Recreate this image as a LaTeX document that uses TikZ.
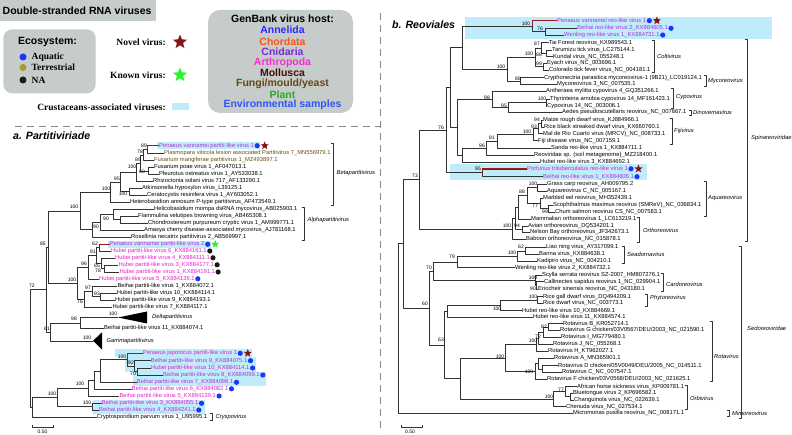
\documentclass[tikz,border=0pt]{standalone}
\usepackage{fontspec}
\setmainfont{Liberation Sans}
\newfontfamily\serifb{Liberation Serif}
\usetikzlibrary{shapes.geometric,calc}
\pgfdeclarelayer{bg}
\pgfsetlayers{bg,main}
\definecolor{brc}{RGB}{50,50,50}
\definecolor{redc}{RGB}{165,25,25}
\definecolor{artc}{RGB}{228,30,205}
\definecolor{crc}{RGB}{180,50,215}
\definecolor{fung}{RGB}{105,75,20}
\definecolor{hlb}{RGB}{190,236,250}
\definecolor{dotb}{RGB}{25,55,250}
\definecolor{doto}{RGB}{170,155,45}
\definecolor{dotk}{RGB}{25,25,25}
\definecolor{strred}{RGB}{135,20,20}
\definecolor{strgrn}{RGB}{40,245,40}
\definecolor{boxg}{RGB}{198,204,202}
\definecolor{cAnn}{RGB}{45,45,250}
\definecolor{cCho}{RGB}{250,85,25}
\definecolor{cCni}{RGB}{120,40,215}
\definecolor{cArt}{RGB}{240,50,205}
\definecolor{cMol}{RGB}{70,12,12}
\definecolor{cFun}{RGB}{100,70,20}
\definecolor{cPla}{RGB}{40,170,40}
\definecolor{cEnv}{RGB}{45,85,250}
\definecolor{dashc}{RGB}{135,135,135}
\tikzset{
  br/.style={draw=brc, line width=0.5pt},
  redbr/.style={draw=redc, line width=0.9pt},
  tip/.style={anchor=west, inner sep=0.2pt, outer sep=0pt, font=\fontsize{5.8}{6}\selectfont},
  bsl/.style={inner sep=0pt, font=\fontsize{5}{5}\selectfont},
  grp/.style={anchor=west, inner sep=0pt, font=\fontsize{5.8}{6}\selectfont\itshape},
  dotn/.style={circle, inner sep=0pt, minimum size=5.2pt},
  starn/.style={star, star points=5, star point ratio=2.3, inner sep=0pt, minimum size=8.5pt},
  brkt/.style={draw=black!80, line width=0.5pt},
  hostt/.style={font=\fontsize{10.5}{12}\selectfont\bfseries, inner sep=0pt},
  serl/.style={font=\serifb\bfseries\fontsize{9.5}{11}\selectfont, inner sep=0pt},
  dashl/.style={draw=dashc, line width=0.8pt, dash pattern=on 7pt off 5pt}
}
\newcommand\tp[5][black]{\node[tip,text=#1] (#2) at (#3,#4) {#5};}
\newcommand\nd[4]{\coordinate (#1m) at ($(#3)!0.5!(#4)$);\coordinate (#1) at (#2,0 |- #1m);\draw[br] (#1) |- (#3);\draw[br] (#1) |- (#4);}
\newcommand\bs[3]{\node[bsl] at (#1,#2) {#3};}
\newcommand\dt[2][dotb]{\node[dotn, fill=#1] at ($(#2.east)+(3,0)$) {};}
\newcommand\st[2][strred]{\node[starn, fill=#1] at ($(#2.east)+(10.5,0)$) {};}
\newcommand\brk[6]{\draw[brkt] (#1,#2) ++(-2.5,0) -- (#1,#2) -- (#1,#3) -- ++(-2.5,0);\node[grp] at (#4,#5) {#6};}
\newcommand\hlbox[4]{\path (#1.east) ++(#2,0) coordinate (hltmp);\fill[hlb] (#3) rectangle (hltmp |- 0,#4);}
\begin{document}
\begin{tikzpicture}[x=1pt,y=-1pt,line join=round]
\useasboundingbox (0,0) rectangle (792,435);
% ---------------- legend ----------------
\fill[boxg] (0,0) rectangle (156,21);
\node[anchor=west, font=\fontsize{10.5}{12}\selectfont\bfseries, inner sep=0pt] (ttl) at (2.5,10.5) {Double-stranded RNA viruses};
\fill[boxg, rounded corners=9pt] (3.3,29.3) rectangle (95.7,93.3);
\node[hostt] (eco) at (47.5,42) {Ecosystem:};
\node[circle, fill=dotb, minimum size=7pt, inner sep=0pt] (e1) at (23,57) {};
\node[circle, fill=doto, minimum size=7pt, inner sep=0pt] (e2) at (23,67.5) {};
\node[circle, fill=dotk, minimum size=7pt, inner sep=0pt] (e3) at (23,80) {};
\node[serl, anchor=west] (e1t) at (31.5,57) {Aquatic};
\node[serl, anchor=west] (e2t) at (31.5,67.5) {Terrestrial};
\node[serl, anchor=west] (e3t) at (31.5,80) {NA};
\node[serl, anchor=east] (nv) at (166,42) {Novel virus:};
\node[star, star points=5, star point ratio=2.3, inner sep=0pt, minimum size=15pt, fill=strred] (nvs) at (180,42) {};
\node[serl, anchor=east] (kv) at (166,75) {Known virus:};
\node[star, star points=5, star point ratio=2.3, inner sep=0pt, minimum size=15pt, fill=strgrn] (kvs) at (180,75) {};
\node[serl, anchor=east] (cv) at (166,107) {Crustaceans-associated viruses:};
\fill[hlb] (172,103.3) rectangle (188.5,110.5);
\fill[boxg, rounded corners=12pt] (208,10) rectangle (353,113);
\node[hostt] (gb) at (282.5,18.3) {GenBank virus host:};
\node[hostt, text=cAnn] (h1) at (282.5,30.2) {Annelida};
\node[hostt, text=cCho] (h2) at (282.5,41.3) {Chordata};
\node[hostt, text=cCni] (h3) at (282.5,51.8) {Cnidaria};
\node[hostt, text=cArt] (h4) at (282.5,62.5) {Arthropoda};
\node[hostt, text=cMol] (h5) at (282.5,72.8) {Mollusca};
\node[hostt, text=cFun] (h6) at (282.5,83.5) {Fungi/mould/yeast};
\node[hostt, text=cPla] (h7) at (282.5,94.5) {Plant};
\node[hostt, text=cEnv] (h8) at (282.5,105) {Environmental samples};
% dashed separators
\draw[dashl] (15,126) -- (380,126);
\draw[dashl] (380,13) -- (380,433);
% titles
\node[anchor=west, inner sep=0pt, font=\fontsize{10.6}{12}\selectfont\bfseries\itshape] (ta) at (13,136) {a. Partitiviriade};
\node[anchor=west, inner sep=0pt, font=\fontsize{10.6}{12}\selectfont\bfseries\itshape] (tb) at (392,24.5) {b. Reoviales};
% ---------------- tree a: tips ----------------
\tp[crc]{a1}{159}{145.7}{Penaeus vannamei partiti-like virus 1}
\tp[fung]{a2}{164}{153}{Plasmopara viticola lesion associated Partitivirus 7\_MN556979.1}
\tp[fung]{a3}{154}{160.3}{Fusarium mangiferae partitivirus 1\_MZ493897.1}
\tp{a4}{154}{167.3}{Fusarium poae virus 1\_AF047013.1}
\tp{a5}{159}{174.3}{Pleurotus ostreatus virus 1\_AY533038.1}
\tp{a6}{153}{181}{Rhizoctonia solani virus 717\_AF133290.1}
\tp{a7}{142}{188.2}{Atkinsonella hypoxylon virus\_L39125.1}
\tp{a8}{147}{195.2}{Ceratocystis resinifera virus 1\_AY603052.1}
\tp{a9}{130}{202.2}{Heterobasidion annosum P-type partitivirus\_AF473549.1}
\tp{a10}{154}{209.2}{Helicobasidium mompa dsRNA mycovirus\_AB025903.1}
\tp{a11}{138}{216}{Flammulina velutipes browning virus\_AB465308.1}
\tp{a12}{148}{222.8}{Chondrostereum purpureum cryptic virus 1\_AM999771.1}
\tp{a13}{144}{230}{Amasya cherry disease-associated mycovirus\_AJ781168.1}
\tp{a14}{131}{237.2}{Rosellinia necatrix partitivirus 2\_AB569997.1}
\tp[crc]{a15}{109.5}{244.3}{Penaeus vannamei partiti-like virus 2}
\tp[artc]{a16}{111}{251}{Hubei partiti-like virus 6\_KX884161.1}
\tp[artc]{a17}{115}{257.8}{Hubei partiti-like virus 4\_KX884111.1}
\tp[artc]{a18}{118.3}{264.8}{Hubei partiti-like virus 3\_KX884177.1}
\tp[artc]{a19}{119.3}{272}{Hubei partiti-like virus 1\_KX884191.1}
\tp[artc]{a20}{99}{278.8}{Hubei partiti-like virus 5\_KX884139.1}
\tp{a21}{117.3}{285.8}{Beihai partiti-like virus 1\_KX884072.1}
\tp{a22}{116.7}{292.8}{Hubei partiti-like virus 10\_KX884114.1}
\tp{a23}{115}{299.8}{Hubei partiti-like virus 9\_KX884193.1}
\tp{a24}{112.3}{306.8}{Hubei partiti-like virus 7\_KX884117.1}
\tp{a25}{104}{328.3}{Beihai partiti-like virus 11\_KX884074.1}
\tp[artc]{a26}{142.7}{353.3}{Penaeus japonicus partiti-like virus 1}
\tp[crc]{a27}{150.7}{360.7}{Beihai partiti-like virus 9\_KX884075.1}
\tp[artc]{a28}{151}{368}{Hubei partiti-like virus 10\_KX884114.1}
\tp[crc]{a29}{163}{375}{Beihai partiti-like virus 8\_KX884099.1}
\tp[crc]{a30}{136.7}{382.3}{Beihai partiti-like virus 7\_KX884098.1}
\tp[artc]{a31}{131.7}{388.8}{Beihai partiti-like virus 6\_KX884082.1}
\tp[artc]{a32}{119.3}{396}{Beihai partiti-like virus 5\_KX884139.1}
\tp[artc]{a33}{101.7}{403.3}{Beihai partiti-like virus 3\_KX884055.1}
\tp[crc]{a34}{99}{410}{Beihai partiti-like virus 4\_KX884241.1}
\tp{a35}{96.7}{416.8}{Cryptosporidium parvum virus 1\_U95995.1}
% highlights a
\begin{pgfonlayer}{bg}
\hlbox{a1}{6}{157,142}{149.5}
\hlbox{a15}{6}{108,240.7}{247.9}
\hlbox{a26}{15}{115,349.5}{357}
\hlbox{a28}{6.5}{125,357}{371.5}
\hlbox{a29}{6.5}{133,371.5}{385.8}
\hlbox{a33}{6.5}{93,399.6}{413.5}
\fill[hlb] (465,17) rectangle (772,39);
\fill[hlb] (450,164) rectangle (647,180.5);
\end{pgfonlayer}
% ---------------- tree a: topology ----------------
\nd{A1}{147}{a1.west}{a2.west}
\nd{A2}{143}{A1}{a3.west}
\nd{A60}{148}{a4.west}{a5.west}
\nd{A3}{140}{A2}{A60}
\nd{A4}{136}{A3}{a6.west}
\nd{AAC}{129}{a7.west}{a8.west}
\nd{A95}{120}{A4}{AAC}
\nd{ABt}{110}{A95}{a9.west}
\nd{AFC}{120}{a11.west}{a12.west}
\nd{A90a}{113}{a10.west}{AFC}
\nd{A90b}{100}{A90a}{a13.west}
\nd{AAl}{92}{A90b}{a14.west}
\nd{ABA}{80}{ABt}{AAl}
\nd{A62}{99}{a15.west}{a16.west}
\nd{A78}{104}{a18.west}{a19.west}
\nd{A85h}{101.5}{a17.west}{A78}
\nd{A81}{96}{A62}{A85h}
\nd{A96}{88}{A81}{a20.west}
\nd{A93}{100.5}{a22.west}{a23.west}
\nd{A97}{92}{a21.west}{A93}
\nd{A76}{84}{A97}{a24.west}
\nd{A100h}{77}{A96}{A76}
\nd{A85}{48.5}{ABA}{A100h}
\coordinate (dl) at (118,317.5);
\fill[black] (dl) -- (147,311.5) -- (147,323.5) -- cycle;
\node[grp] (dln) at (152,317.2) {Deltapartitivirus};
\nd{A98}{80}{dl}{a25.west}
\coordinate (gm) at (93,340.8);
\fill[black] (gm) -- (102,332.3) -- (102,349.5) -- cycle;
\node[grp] (gmn) at (106.5,341) {Gammapartitivirus};
\nd{A61}{50.5}{A98}{gm}
\nd{A72}{46.5}{A85}{A61}
\nd{A70}{137}{a28.west}{a29.west}
\nd{A92}{134}{a27.west}{A70}
\nd{Aj1}{127}{a26.west}{A92}
\nd{AZ}{100}{Aj1}{a30.west}
\nd{AY}{94}{AZ}{a31.west}
\nd{A100b}{88}{AY}{a32.west}
\nd{A100c}{92}{a33.west}{a34.west}
\nd{A100l}{57}{A100b}{A100c}
\nd{AX}{32}{A100l}{a35.west}
\nd{AR}{30}{A72}{AX}
\draw[redbr] (A1) |- (a1.west);
\draw[redbr] (A62) |- (a15.west);
\draw[redbr] (Aj1) |- (a26.west);
% markers a
\dt{a1}\st{a1}
\dt{a15}\st[strgrn]{a15}
\dt[dotk]{a16}\dt[dotk]{a17}\dt[dotk]{a18}\dt[dotk]{a19}\dt{a20}
\dt{a26}\st{a26}
\dt{a27}\dt{a28}\dt{a29}\dt{a30}\dt{a31}\dt{a32}\dt{a33}\dt{a34}
% bootstrap a
\bs{144}{146}{89}\bs{140}{152}{78}\bs{138}{160}{89}\bs{132}{167}{100}\bs{142}{172}{60}
\bs{117}{179}{95}\bs{106}{189}{100}\bs{123}{194}{100}\bs{74}{207}{100}\bs{106}{219}{90}
\bs{96}{227}{90}\bs{43}{244}{85}\bs{95}{244}{62}\bs{93}{252}{81}\bs{84}{264}{96}
\bs{97}{265.5}{85}\bs{98}{271}{78}\bs{72}{280}{100}\bs{88}{288}{97}\bs{97}{294}{93}
\bs{80}{302}{76}\bs{32}{286}{72}\bs{113}{314}{100}\bs{74}{319}{98}\bs{47}{329}{61}
\bs{87}{338}{100}\bs{122}{357}{100}\bs{131}{363}{92}\bs{133}{374}{70}\bs{80}{384}{100}
\bs{52}{394}{100}\bs{87}{403}{100}
% brackets a
\brk{333}{143}{205}{336.5}{173}{Betapartitivirus}
\brk{304}{207}{240}{307.5}{220}{Alphapartitivirus}
\brk{212}{413.5}{420}{215.5}{417}{Cryspovirus}
% scale a
\draw[br] (32,425) -- (32,427) -- (53,427) -- (53,425);
\node[bsl] (sa) at (42.5,432) {0.50};
% ---------------- tree b: tips ----------------
\tp[crc]{b1}{557}{20.7}{Penaeus vannamei reo-like virus 1}
\tp[crc]{b2}{577}{28.3}{Beihai reo-like virus 2\_KX884605.1}
\tp[crc]{b3}{564}{35}{Wenling reo-like virus 1\_KX884731.1}
\tp{b4}{549}{42.7}{Tai Forest reovirus\_KX989543.1}
\tp{b5}{552}{50}{Tarumizu tick virus\_LC275144.1}
\tp{b6}{553}{56.7}{Kundal virus\_NC\_055248.1}
\tp{b7}{547}{63.3}{Eyach virus\_NC\_003696.1}
\tp{b8}{549}{70}{Colorado tick fever virus\_NC\_004181.1}
\tp{b9}{544}{77.7}{Cryphonectria parasitica mycoreovirus-1 (9B21)\_LC019124.1}
\tp{b10}{557}{84}{Mycoreovirus 3\_NC\_007535.1}
\tp{b11}{546}{91}{Antheraea mylitta cypovirus 4\_GQ351266.1}
\tp{b12}{550}{99}{Thyrinteina arnobia cypovirus 14\_MF161423.1}
\tp{b13}{547}{106}{Cypovirus 14\_NC\_003006.1}
\tp{b14}{562}{112.3}{Aedes pseudoscutellaris reovirus\_NC\_007667.1}
\tp{b15}{543}{120}{Maize rough dwarf virus\_KJ884966.1}
\tp{b16}{544}{127}{Rice black streaked dwarf virus\_KX660760.1}
\tp{b17}{543}{133.7}{Mal de Rio Cuarto virus (MRCV)\_NC\_008733.1}
\tp{b18}{538}{140.7}{Fiji disease virus\_NC\_007159.1}
\tp{b19}{551}{148.3}{Sanda reo-like virus 1\_KX884711.1}
\tp{b20}{534}{155.3}{Reoviridae sp. (soil metagenome)\_MZ218400.1}
\tp{b21}{540}{162.3}{Hubei reo-like virus 3\_KX884692.1}
\tp[artc]{b22}{527}{168.8}{Portunus trituberculatus reo-like virus 1}
\tp[crc]{b23}{543}{176.7}{Beihai reo-like virus 1\_KX884606.1}
\tp{b24}{547}{184.3}{Grass carp reovirus\_AH009795.2}
\tp{b25}{547}{191}{Aquareovirus C\_NC\_005167.1}
\tp{b26}{543}{198.3}{Marbled eel reovirus\_MH352439.1}
\tp{b27}{553}{205}{Scophthalmus maximus reovirus (SMReV)\_NC\_036834.1}
\tp{b28}{555}{212.3}{Chum salmon reovirus CS\_NC\_007583.1}
\tp{b29}{531}{219}{Mammalian orthoreovirus 1\_LC613219.1}
\tp{b30}{528}{225.8}{Avian orthoreovirus\_DQ534201.1}
\tp{b31}{530}{232.5}{Nelson Bay orthoreovirus\_JF342673.1}
\tp{b32}{526}{239.3}{Baboon orthoreovirus\_NC\_015878.1}
\tp{b33}{546}{247.3}{Liao ning virus\_AY317099.1}
\tp{b34}{539}{254.3}{Banna virus\_KX884638.1}
\tp{b35}{537}{261}{Kadipiro virus\_NC\_004210.1}
\tp{b36}{515}{267.7}{Wenling reo-like virus 2\_KX884732.1}
\tp{b37}{542}{275}{Scylla serrata reovirus SZ-2007\_HM807276.1}
\tp{b38}{544}{281.7}{Callinectes sapidus reovirus 1\_NC\_029904.1}
\tp{b39}{538}{289}{Eriocheir sinensis reovirus\_NC\_043180.1}
\tp{b40}{543}{296.7}{Rice gall dwarf virus\_DQ494209.1}
\tp{b41}{543}{303.3}{Rice dwarf virus\_NC\_003773.1}
\tp{b42}{522}{310.7}{Hubei reo-like virus 10\_KX884669.1}
\tp{b43}{533}{317.3}{Hubei reo-like virus 11\_KX884574.1}
\tp{b44}{563}{323.5}{Rotavirus B\_KR052714.1}
\tp{b45}{560}{330.2}{Rotavirus G chicken/03V0567/DEU/2003\_NC\_021590.1}
\tp{b46}{561}{337.3}{Rotavirus I\_MG779480.1}
\tp{b47}{553}{344.3}{Rotavirus J\_NC\_055268.1}
\tp{b48}{548}{351}{Rotavirus H\_KT962027.1}
\tp{b49}{554}{358.3}{Rotavirus A\_MN365901.1}
\tp{b50}{558}{365.7}{Rotavirus D chicken/05V0049/DEU/2005\_NC\_014511.1}
\tp{b51}{562}{372.3}{Rotavirus C\_NC\_007547.1}
\tp{b52}{547}{379}{Rotavirus F chicken/03V0568/DEU/2003\_NC\_021625.1}
\tp{b53}{577}{386.7}{African horse sickness virus\_KP009781.1}
\tp{b54}{573}{393.3}{Bluetongue virus 2\_KP696582.1}
\tp{b55}{574}{400}{Changuinola virus\_NC\_022639.1}
\tp{b56}{566}{406.7}{Chenuda virus\_NC\_027534.1}
\tp{b57}{573}{413.3}{Micromonas pusilla reovirus\_NC\_008171.1}
% ---------------- tree b: topology ----------------
\nd{B76r}{545}{b2.west}{b3.west}
\nd{B100r1}{532}{b1.west}{B76r}
\nd{B88c}{546}{b5.west}{b6.west}
\nd{B87c}{541}{b4.west}{B88c}
\nd{B99c}{543}{b7.west}{b8.west}
\nd{B100c}{535}{B87c}{B99c}
\nd{B88m}{520}{b9.west}{b10.west}
\nd{B100col}{507}{B100c}{B88m}
\nd{BA}{462}{B100r1}{B100col}
\nd{B100cy}{546}{b12.west}{b13.west}
\nd{B95}{508}{B100cy}{b14.west}
\nd{B98}{492}{b11.west}{B95}
\nd{B94}{541}{b15.west}{b16.west}
\nd{B93}{538}{B94}{b17.west}
\nd{B100f}{533}{B93}{b18.west}
\nd{B81}{497}{B100f}{b19.west}
\nd{B96}{486}{B81}{b20.west}
\nd{Bh3}{462}{B96}{b21.west}
\nd{BB}{457}{B98}{Bh3}
\nd{BU}{450}{BA}{BB}
\nd{B95p}{482}{b22.west}{b23.west}
\nd{B76}{446}{BU}{B95p}
\nd{B100aq}{537}{b24.west}{b25.west}
\nd{B99aq}{548}{b27.west}{b28.west}
\nd{B77aq}{540}{b26.west}{B99aq}
\nd{B88aq}{527}{B100aq}{B77aq}
\nd{BA2}{518}{B88aq}{b29.west}
\nd{B94o}{522}{b30.west}{b31.west}
\nd{Bm}{515}{BA2}{B94o}
\nd{Bx}{512}{Bm}{b32.west}
\nd{B73}{419}{B76}{Bx}
\nd{B62}{525}{b33.west}{b34.west}
\nd{B100s}{517}{B62}{b35.west}
\nd{B79}{457}{B100s}{b36.west}
\nd{B90c}{536.5}{b38.west}{b39.west}
\nd{B100c2}{535}{b37.west}{B90c}
\nd{B70}{433}{B79}{B100c2}
\nd{B100ph}{537}{b40.west}{b41.west}
\nd{B100b}{500}{B100ph}{b42.west}
\nd{Bp}{447}{B100b}{b43.west}
\nd{B82}{548}{b44.west}{b45.west}
\nd{B72r}{543}{B82}{b46.west}
\nd{B100r}{538}{B72r}{b47.west}
\nd{Brh}{536}{B100r}{b48.west}
\nd{Bdc}{542}{b50.west}{b51.west}
\nd{Badc}{538}{b49.west}{Bdc}
\nd{Badcf}{535}{Badc}{b52.west}
\nd{B100rot}{505}{Brh}{Badcf}
\nd{Bbc}{570}{b54.west}{b55.west}
\nd{B77}{565}{b53.west}{Bbc}
\nd{B100orb}{553}{B77}{b56.west}
\nd{BRO}{460}{B100rot}{B100orb}
\nd{B63}{444}{Bp}{BRO}
\nd{B60}{429}{B70}{B63}
\nd{Bmain}{403}{B73}{B60}
\nd{BR}{398}{Bmain}{b57.west}
\draw[redbr] (B100r1) |- (b1.west);
\draw[redbr] (B95p) |- (b22.west);
% markers b
\dt{b1}\st{b1}\dt{b2}\dt{b3}\dt{b22}\st{b22}\dt{b23}
% bootstrap b
\bs{526}{24}{100}\bs{540}{29}{76}\bs{537}{44}{87}\bs{529}{54}{100}\bs{539}{55}{88}
\bs{539}{64}{99}\bs{501}{67}{100}\bs{518}{79}{88}\bs{487}{98}{98}\bs{542}{99}{100}
\bs{504}{106}{95}\bs{537}{120}{94}\bs{534}{127}{93}\bs{527}{132}{100}\bs{492}{138}{81}
\bs{482}{146}{96}\bs{441}{128}{76}\bs{478}{169}{95}\bs{415}{176}{73}\bs{533}{184}{100}
\bs{522}{192}{88}\bs{535}{206}{77}\bs{545}{212}{99}\bs{507}{226}{100}\bs{517}{226}{94}
\bs{521}{247}{62}\bs{512}{253}{100}\bs{452}{257}{79}\bs{429}{268}{70}\bs{533}{278}{100}
\bs{533}{289}{90}\bs{533}{297}{100}\bs{497}{309}{100}\bs{425}{304}{60}\bs{544}{327}{82}
\bs{538}{337}{72}\bs{533}{341}{100}\bs{441}{340}{63}\bs{500}{357}{100}\bs{529}{372}{100}
\bs{561}{390}{77}\bs{549}{397}{100}
% brackets b
\brk{654}{40}{72}{657}{56}{Coltivirus}
\brk{706}{75}{86.5}{708}{81}{Mycoreovirus}
\brk{673}{88.5}{108}{676}{97}{Cypovirus}
\brk{691}{110}{115}{693}{112.5}{Dinovernavirus}
\brk{672}{118}{144}{674}{131}{Fijivirus}
\brk{747}{39}{241}{751}{138}{Spinareoviridae}
\brk{706}{181}{216}{708}{198}{Aquareovirus}
\brk{639}{217.5}{242}{643}{230}{Orthoreovirus}
\brk{624}{246}{263.5}{627}{254}{Seadornavirus}
\brk{663}{273.5}{291}{666}{284}{Cardoreovirus}
\brk{647}{294.5}{306}{650}{298.5}{Phytoreovirus}
\brk{712}{321}{381}{714}{356}{Rotavirus}
\brk{687}{385}{409}{690}{398}{Orbivirus}
\brk{729}{410.5}{416}{732}{413.3}{Mimoreovirus}
\brk{741}{246}{418}{747}{328}{Sedoreoviridae}
% scale b
\draw[br] (401,425) -- (401,427) -- (422,427) -- (422,425);
\node[bsl] (sb) at (410,432) {0.50};
\end{tikzpicture}
\end{document}
